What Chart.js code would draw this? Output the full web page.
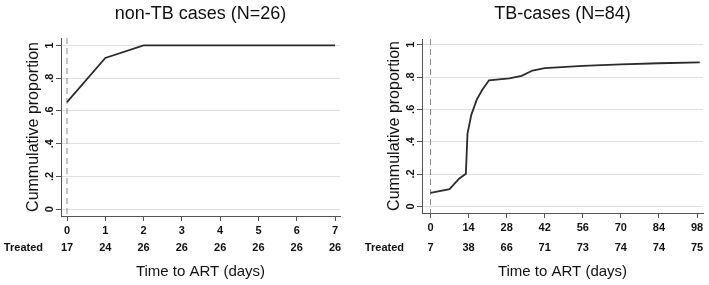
<!DOCTYPE html>
<html>
<head>
<meta charset="utf-8">
<script src="https://cdn.jsdelivr.net/npm/chart.js@4.4.1/dist/chart.umd.min.js"></script>
<style>
html, body { margin: 0; padding: 0; background: #fff; }
#wrap { position: relative; width: 709px; height: 285px; }
canvas { position: absolute; top: 0; }
</style>
</head>
<body>
<div id="wrap">
  <canvas id="nonTb" width="354" height="285" style="left:0"></canvas>
  <canvas id="tb" width="355" height="285" style="left:354px"></canvas>
</div>
<script>
// non-TB cases
const nonTbDays = [0, 1, 2, 7];
const nonTbProp = [0.654, 0.923, 1, 1];
const nonTbTicks = [0, 1, 2, 3, 4, 5, 6, 7];
const nonTbTreated = [17, 24, 26, 26, 26, 26, 26, 26];

// TB cases
const tbDays = [0, 7, 10.5, 13, 13.6, 15, 17, 19, 21.5, 29, 33.5, 37.5, 42, 56, 70, 84, 99];
const tbProp = [0.083, 0.107, 0.171, 0.202, 0.45, 0.566, 0.66, 0.72, 0.78, 0.792, 0.807, 0.84, 0.855, 0.869, 0.878, 0.885, 0.89];
const tbTicks = [0, 14, 28, 42, 56, 70, 84, 98];
const tbTreated = [7, 38, 66, 71, 73, 74, 74, 75];

const yTicks = [0, 0.2, 0.4, 0.6, 0.8, 1];

const FONT = "'Liberation Sans', Arial, sans-serif";
Chart.defaults.font.family = FONT;
Chart.defaults.color = '#111';

const fmtY = v => (v === 0 || v === 1) ? String(v) : String(v).replace(/^0/, '');

// extra text: title, rotated y tick labels, "Treated" row, dashed line at 0
const extras = {
    id: 'extras',
    beforeDatasetsDraw(chart) {
        const { ctx, chartArea: a, scales: { x } } = chart;
        const px = x.getPixelForValue(0);
        ctx.save();
        ctx.strokeStyle = '#8c8c8c';
        ctx.lineWidth = 1;
        ctx.setLineDash([6, 4]);
        ctx.beginPath();
        ctx.moveTo(px, a.top);
        ctx.lineTo(px, a.bottom);
        ctx.stroke();
        ctx.restore();
    },
    afterDraw(chart, args, opts) {
        const { ctx, chartArea: a, scales: { x, y } } = chart;
        ctx.save();
        ctx.fillStyle = '#111';

        ctx.font = '18px ' + FONT;
        ctx.textAlign = 'center';
        ctx.textBaseline = 'middle';
        ctx.fillText(opts.title, (a.left + a.right) / 2, 14);

        ctx.font = 'bold 11px ' + FONT;
        yTicks.forEach(v => {
            ctx.save();
            ctx.translate(a.left - 11, y.getPixelForValue(v));
            ctx.rotate(-Math.PI / 2);
            ctx.fillText(fmtY(v), 0, 0);
            ctx.restore();
        });

        opts.ticks.forEach((v, i) => {
            ctx.fillText(String(opts.treated[i]), x.getPixelForValue(v), 248);
        });
        ctx.textAlign = 'right';
        ctx.fillText('Treated', a.left - 18, 248);
        ctx.restore();
    }
};

function makePanel(id, cfg) {
    new Chart(document.getElementById(id), {
        type: 'line',
        data: {
            datasets: [{
                data: cfg.days.map((d, i) => ({ x: d, y: cfg.prop[i] })),
                borderColor: '#2b2b2b',
                borderWidth: 1.8,
                pointRadius: 0,
                tension: 0,
                fill: false
            }]
        },
        options: {
            responsive: false,
            animation: false,
            layout: { padding: { left: cfg.padLeft, right: cfg.padRight, top: cfg.padTop, bottom: 0 } },
            plugins: {
                legend: { display: false },
                tooltip: { enabled: false },
                extras: { title: cfg.title, ticks: cfg.ticks, treated: cfg.treated }
            },
            scales: {
                x: {
                    type: 'linear',
                    min: cfg.xMin,
                    max: cfg.xMax,
                    afterBuildTicks: s => { s.ticks = cfg.ticks.map(v => ({ value: v })); },
                    afterFit: s => { s.height = cfg.xHeight; },
                    grid: { drawOnChartArea: false, drawTicks: true, tickLength: 5, tickColor: '#555' },
                    border: { color: '#555', width: 1 },
                    ticks: { autoSkip: false, maxRotation: 0, padding: 3, font: { size: 11, weight: 'bold' }, color: '#111' },
                    title: { display: true, text: 'Time to ART (days)', font: { size: 15 }, color: '#111', padding: { top: 0, bottom: 4 } }
                },
                y: {
                    min: cfg.yMin,
                    max: cfg.yMax,
                    afterBuildTicks: s => { s.ticks = yTicks.map(v => ({ value: v })); },
                    afterFit: s => { s.width = 61; },
                    grid: { color: '#e0e0e0', lineWidth: 1, drawTicks: true, tickLength: 5, tickColor: '#555' },
                    border: { color: '#555', width: 1 },
                    ticks: { display: false },
                    title: { display: true, text: 'Cummulative proportion', font: { size: 16 }, color: '#111', padding: { top: 24, bottom: 0 } }
                }
            }
        },
        plugins: [extras]
    });
}

makePanel('nonTb', {
    title: 'non-TB cases (N=26)',
    days: nonTbDays, prop: nonTbProp, ticks: nonTbTicks, treated: nonTbTreated,
    xMin: -0.157, xMax: 7.13, yMin: -0.041, yMax: 1.045,
    padLeft: 0, padRight: 14, padTop: 38, xHeight: 69
});

makePanel('tb', {
    title: 'TB-cases (N=84)',
    days: tbDays, prop: tbProp, ticks: tbTicks, treated: tbTreated,
    xMin: -3.13, xMax: 100.2, yMin: -0.041, yMax: 1.035,
    padLeft: 7, padRight: 6, padTop: 39, xHeight: 72
});
</script>
</body>
</html>
